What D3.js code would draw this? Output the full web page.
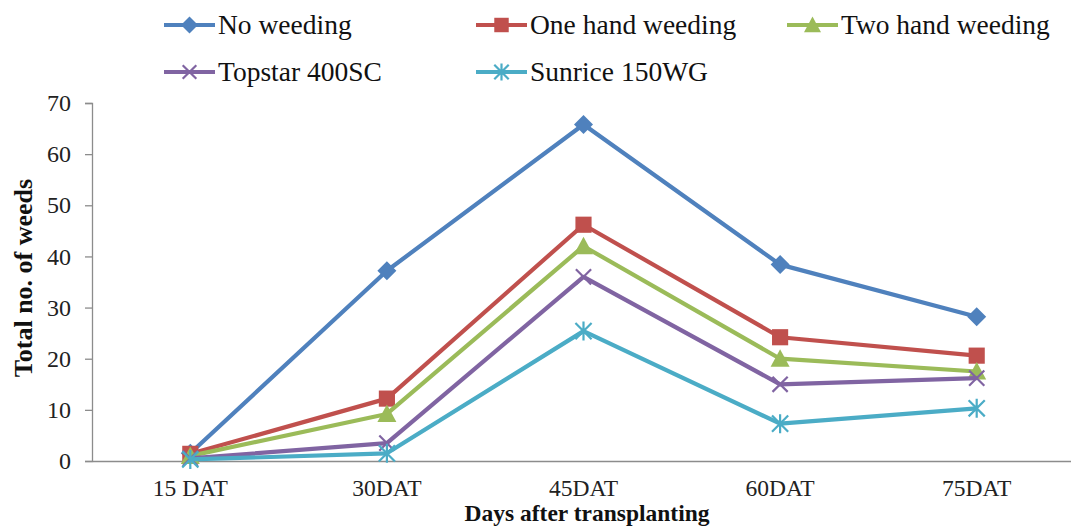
<!DOCTYPE html>
<html>
<head>
<meta charset="utf-8">
<script src="https://cdn.jsdelivr.net/npm/d3@7"></script>
<style>
  body { margin: 0; background: #fff; }
  svg { display: block; font-family: "Liberation Serif", "Times New Roman", serif; }
  svg text { font-family: "Liberation Serif", "Times New Roman", serif; }
</style>
</head>
<body>
<div class="chartPlaceholder"></div>
<script>
const WIDTH = 1071;
const HEIGHT = 526;

const categories = ['15 DAT', '30DAT', '45DAT', '60DAT', '75DAT'];
const seriesNames = ['No weeding', 'One hand weeding', 'Two hand weeding', 'Topstar 400SC', 'Sunrice 150WG'];
const noWeeding = [1.5, 37.2, 65.8, 38.4, 28.2];
const oneHand = [1.4, 12.2, 46.2, 24.2, 20.6];
const twoHand = [1.0, 9.2, 42.0, 20.0, 17.5];
const topstar = [0.5, 3.5, 36.0, 15.0, 16.2];
const sunrice = [0.3, 1.5, 25.4, 7.3, 10.3];
const yTicks = [0, 10, 20, 30, 40, 50, 60, 70];

const colors = ['#4F81BD', '#C0504D', '#9BBB59', '#8064A2', '#4BACC6'];
const shapes = ['diamond', 'square', 'triangle', 'x', 'star'];
const allValues = [noWeeding, oneHand, twoHand, topstar, sunrice];

let svg = d3.select('.chartPlaceholder')
    .append('svg')
    .attr('width', WIDTH)
    .attr('height', HEIGHT);

let xScale = d3.scaleBand().domain(categories).range([92, 1075]).padding(0);
let yScale = d3.scaleLinear().domain([0, 70]).range([461, 103]);
let xc = d => xScale(d) + xScale.bandwidth() / 2;

// axes
let yAxis = d3.axisLeft(yScale).tickValues(yTicks).tickSize(7).tickPadding(14);
let gy = svg.append('g').attr('transform', 'translate(92,0)').call(yAxis);
gy.attr('font-family', null);
gy.select('.domain').attr('stroke', '#8c8c8c').attr('stroke-width', 1.3);
gy.selectAll('.tick line').attr('stroke', '#8c8c8c').attr('stroke-width', 1.3);
gy.selectAll('.tick text').style('font-size', '24px').attr('fill', '#222');

let xAxis = d3.axisBottom(xScale).tickSize(0).tickPadding(18);
let gx = svg.append('g').attr('transform', 'translate(0,461)').call(xAxis);
gx.attr('font-family', null);
gx.select('.domain').attr('stroke', '#8c8c8c').attr('stroke-width', 1.3);
gx.selectAll('.tick text').style('font-size', '23.5px').attr('fill', '#222');

// titles
svg.append('text')
    .attr('transform', 'translate(32, 278) rotate(-90)')
    .attr('text-anchor', 'middle')
    .attr('font-size', 26).attr('font-weight', 'bold').attr('fill', '#111')
    .text('Total no. of weeds');

svg.append('text')
    .attr('x', 587).attr('y', 521)
    .attr('text-anchor', 'middle')
    .attr('font-size', 23.5).attr('font-weight', 'bold').attr('fill', '#111')
    .text('Days after transplanting');

function marker(g, shape, color, size) {
    let s = size;
    if (shape === 'diamond') {
        g.append('path').attr('d', `M0,${-s}L${s},0L0,${s}L${-s},0Z`).attr('fill', color);
    } else if (shape === 'square') {
        g.append('rect').attr('x', -s * 0.85).attr('y', -s * 0.85)
            .attr('width', s * 1.7).attr('height', s * 1.7).attr('fill', color);
    } else if (shape === 'triangle') {
        g.append('path').attr('d', `M0,${-s}L${s},${s * 0.85}L${-s},${s * 0.85}Z`).attr('fill', color);
    } else if (shape === 'x') {
        let r = s * 0.8;
        g.append('path').attr('d', `M${-r},${-r}L${r},${r}M${r},${-r}L${-r},${r}`)
            .attr('stroke', color).attr('stroke-width', 2.2).attr('fill', 'none');
    } else {
        let r = s * 0.85;
        g.append('path').attr('d', `M${-r},${-r}L${r},${r}M${r},${-r}L${-r},${r}M0,${-s}L0,${s}`)
            .attr('stroke', color).attr('stroke-width', 2.2).attr('fill', 'none');
    }
}

let line = d3.line().x((d, i) => xc(categories[i])).y(d => yScale(d));

allValues.forEach((vals, k) => {
    let g = svg.append('g');
    g.append('path').datum(vals)
        .attr('d', line)
        .attr('fill', 'none')
        .attr('stroke', colors[k])
        .attr('stroke-width', 4.2)
        .attr('stroke-linejoin', 'round');
    vals.forEach((v, i) => {
        let mg = g.append('g').attr('transform', `translate(${xc(categories[i])},${yScale(v)})`);
        marker(mg, shapes[k], colors[k], 9.5);
    });
});

// legend
const legendX = [164, 476, 787];
const legendY = [25, 72];
seriesNames.forEach((name, k) => {
    let lx = legendX[k % 3];
    let ly = legendY[Math.floor(k / 3)];
    let g = svg.append('g').attr('transform', `translate(${lx},${ly})`);
    g.append('line').attr('x1', 0).attr('x2', 51).attr('y1', 0).attr('y2', 0)
        .attr('stroke', colors[k]).attr('stroke-width', 4.2);
    let mg = g.append('g').attr('transform', 'translate(25.5,0)');
    marker(mg, shapes[k], colors[k], 8.5);
    g.append('text').attr('x', 54).attr('y', 9)
        .attr('font-size', 27.5).attr('fill', '#111')
        .text(name);
});
</script>
</body>
</html>
